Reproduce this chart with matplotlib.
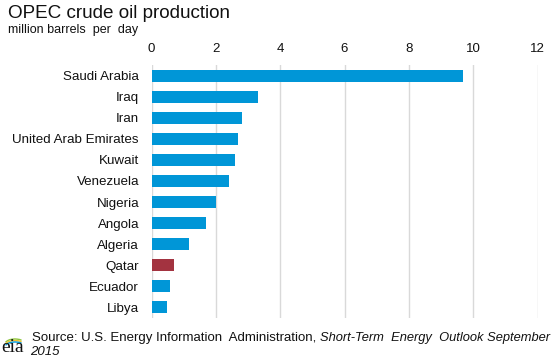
import matplotlib
matplotlib.use('Agg')
import matplotlib.pyplot as plt
from matplotlib.patches import Arc

countries = ['Saudi Arabia', 'Iraq', 'Iran', 'United Arab Emirates', 'Kuwait', 'Venezuela',
             'Nigeria', 'Angola', 'Algeria', 'Qatar', 'Ecuador', 'Libya']
production = [9.69, 3.31, 2.82, 2.69, 2.6, 2.41, 2.0, 1.7, 1.17, 0.7, 0.57, 0.48]
highlight = 'Qatar'
ticks = [0, 2, 4, 6, 8, 10, 12]

W, H = 554, 358
plt.rcParams['font.family'] = 'Liberation Sans'
fig = plt.figure(figsize=(W / 100, H / 100), dpi=100)

# axes placed in pixels
left, right, top, bottom = 151.5, 537.5, 65, 318
ax = fig.add_axes([left / W, 1 - bottom / H, (right - left) / W, (bottom - top) / H])

colors = ['#a33340' if c == highlight else '#0096d7' for c in countries]
ax.barh(countries, production, height=0.57, color=colors, zorder=3)
ax.set_xlim(0, 12)
ax.set_ylim(len(countries) - 0.5, -0.5)
ax.set_xticks(ticks)
ax.xaxis.tick_top()
ax.tick_params(axis='x', length=0, pad=7, labelsize=9.5, labelcolor='#111111')
ax.tick_params(axis='y', length=0, pad=9, labelsize=9.6, labelcolor='#111111')
ax.grid(axis='x', color='#d9d9d9', linewidth=1, zorder=0)
for s in ax.spines.values():
    s.set_visible(False)


def px_text(x, y, s, **kw):
    return fig.text(x / W, 1 - y / H, s, va='baseline', color='#111111', **kw)


px_text(8, 18, 'OPEC crude oil production', fontsize=13.6)
px_text(8, 33, 'million barrels  per  day', fontsize=9)

# source line, regular and italic runs
px_text(32, 341, 'Source: U.S. Energy Information  Administration,', fontsize=9.5)
px_text(320, 341, 'Short-Term  Energy  Outlook September', fontsize=9.25, style='italic')
px_text(30, 355, '2015', fontsize=9.5, style='italic')

# eia logo
px_text(1, 352, 'eia', fontsize=14, family='Liberation Serif')
logo = fig.add_axes([0, 0, 1, 1], facecolor='none')
logo.set_xlim(0, W)
logo.set_ylim(H, 0)
logo.axis('off')
for col, d in [('#8cc63f', 0), ('#f2c230', 1.5), ('#0096d7', 3)]:
    logo.add_patch(Arc((15, 344 + d), 20, 10, theta1=190, theta2=330, color=col, lw=1))

fig.savefig('out.png', dpi=100)
